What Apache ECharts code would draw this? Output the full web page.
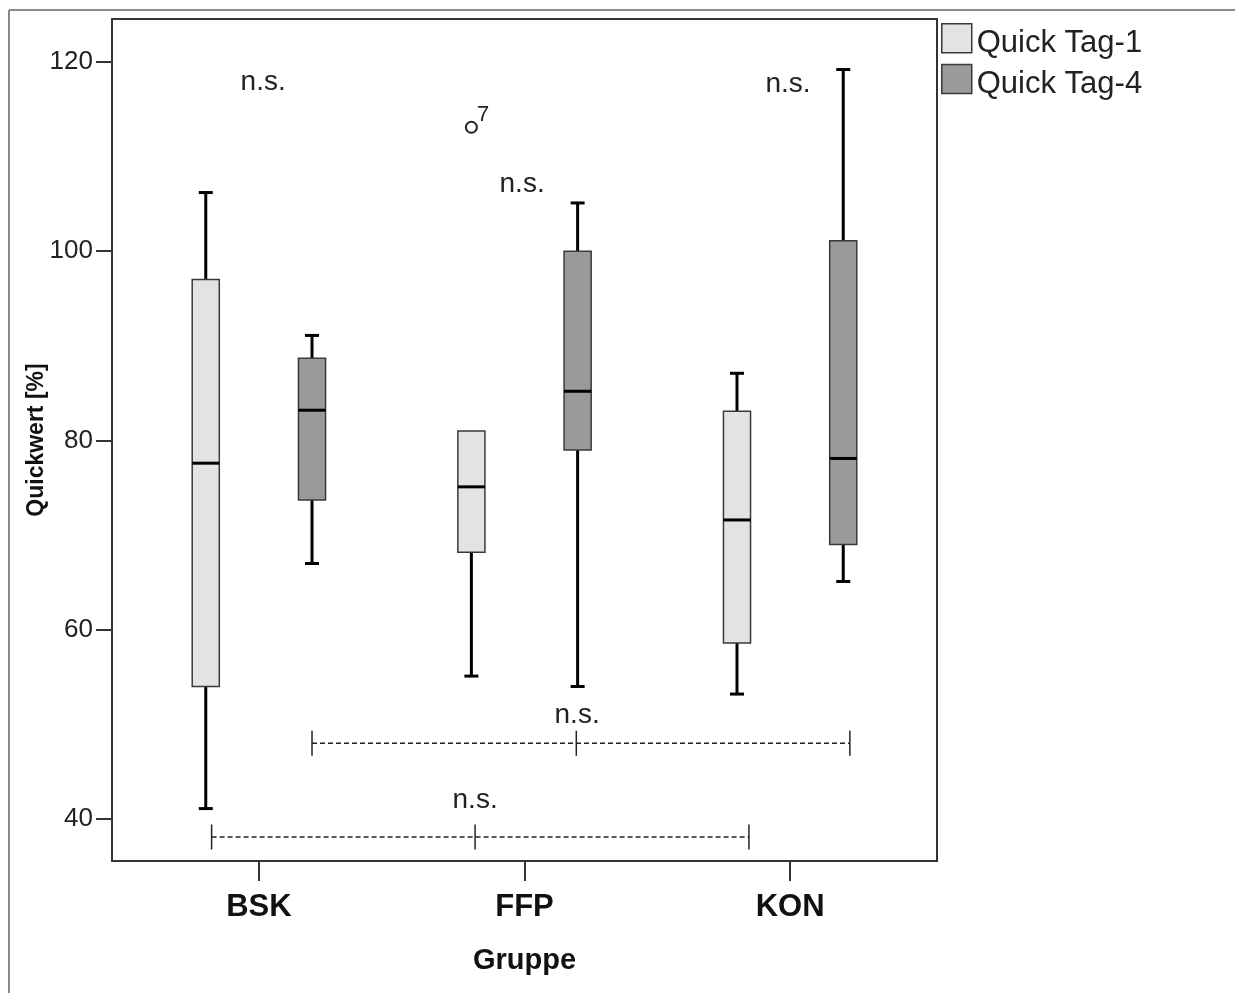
<!DOCTYPE html>
<html lang="de">
<head>
    <meta charset="utf-8">
    <title>Quickwert nach Gruppe</title>
    <script src="https://cdn.jsdelivr.net/npm/echarts@6/dist/echarts.min.js"></script>
    <style>
        html, body { margin: 0; padding: 0; background: #fff; }
        #chart { width: 1235px; height: 993px; }
    </style>
</head>
<body>
<div id="chart"></div>
<script type="text/javascript">
  // Gruppen und Boxplot-Kennwerte [min, Q1, Median, Q3, max]
  const groups = ['BSK', 'FFP', 'KON'];
  const tag1Box = [
      [41.1, 54.0, 77.6, 97.0, 106.2],
      [55.1, 68.2, 75.1, 81.0, 81.0],
      [53.2, 58.6, 71.6, 83.1, 87.1]
  ];
  const tag4Box = [
      [67.0, 73.7, 83.2, 88.7, 91.1],
      [54.0, 79.0, 85.2, 100.0, 105.1],
      [65.1, 69.0, 78.1, 101.1, 119.2]
  ];
  // Ausreißer: [Gruppe, Wert, Fallnummer]
  const tag1Outliers = [[1, 113.1, '7']];
  const yTicks = [40, 60, 80, 100, 120];

  // Signifikanz-Beschriftungen: [x, y, Text]
  const notes = [
      [1.016, 117.9, 'n.s.'],
      [1.991, 107.1, 'n.s.'],
      [2.992, 117.6, 'n.s.'],
      [2.198, 51.0, 'n.s.'],
      [1.814, 42.0, 'n.s.']
  ];
  // Vergleichsklammern: [y, x links, x Mitte, x rechts]
  const brackets = [
      [48.0, 1.200, 2.195, 3.225],
      [38.1, 0.822, 1.814, 2.845]
  ];

  const FONT = "'Liberation Sans', Arial, sans-serif";
  const OFFSET = 0.2;
  const BOX_W = 0.102;

  function boxData(list, sign) {
      return list.map((v, i) => [i + 1 + sign * OFFSET].concat(v));
  }

  function renderBox(params, api) {
      const x = api.value(0);
      const pMin = api.coord([x, api.value(1)]);
      const pQ1 = api.coord([x, api.value(2)]);
      const pMed = api.coord([x, api.value(3)]);
      const pQ3 = api.coord([x, api.value(4)]);
      const pMax = api.coord([x, api.value(5)]);
      const w = api.size([BOX_W, 0])[0];
      const cx = pMed[0];
      const cap = 7;
      const fill = api.visual('color');
      const thick = { stroke: '#000', lineWidth: 3 };
      const children = [];
      if (pMax[1] < pQ3[1] - 1) {
          children.push(
              { type: 'line', shape: { x1: cx, y1: pQ3[1], x2: cx, y2: pMax[1] }, style: thick },
              { type: 'line', shape: { x1: cx - cap, y1: pMax[1], x2: cx + cap, y2: pMax[1] }, style: thick }
          );
      }
      if (pMin[1] > pQ1[1] + 1) {
          children.push(
              { type: 'line', shape: { x1: cx, y1: pMin[1], x2: cx, y2: pQ1[1] }, style: thick },
              { type: 'line', shape: { x1: cx - cap, y1: pMin[1], x2: cx + cap, y2: pMin[1] }, style: thick }
          );
      }
      children.push(
          {
              type: 'rect',
              shape: { x: cx - w / 2, y: pQ3[1], width: w, height: pQ1[1] - pQ3[1] },
              style: { fill: fill, stroke: '#3a3a3a', lineWidth: 1.5 }
          },
          { type: 'line', shape: { x1: cx - w / 2, y1: pMed[1], x2: cx + w / 2, y2: pMed[1] }, style: thick }
      );
      return { type: 'group', children: children };
  }

  function renderBracket(params, api) {
      const y = api.value(0);
      const pts = [api.coord([api.value(1), y]), api.coord([api.value(2), y]), api.coord([api.value(3), y])];
      const h = 12.5;
      const children = [{
          type: 'line',
          shape: { x1: pts[0][0], y1: pts[0][1], x2: pts[2][0], y2: pts[2][1] },
          style: { stroke: '#222', lineWidth: 1.5, lineDash: [5, 3] }
      }];
      pts.forEach(p => {
          children.push({
              type: 'line',
              shape: { x1: p[0], y1: p[1] - h, x2: p[0], y2: p[1] + h },
              style: { stroke: '#222', lineWidth: 1.5 }
          });
      });
      return { type: 'group', children: children };
  }

  const chart = echarts.init(document.getElementById('chart'));

  chart.setOption({
      animation: false,
      textStyle: { fontFamily: FONT },
      graphic: [
          { type: 'line', shape: { x1: 9, y1: 10, x2: 1235, y2: 10 }, style: { stroke: '#8a8a8a', lineWidth: 2 } },
          { type: 'line', shape: { x1: 9, y1: 10, x2: 9, y2: 993 }, style: { stroke: '#8a8a8a', lineWidth: 2 } }
      ],
      grid: {
          left: 112, top: 19, right: 298, bottom: 132,
          show: true, borderColor: '#333', borderWidth: 2, backgroundColor: '#fff'
      },
      legend: {
          orient: 'vertical',
          left: 941, top: 23,
          padding: 0,
          itemWidth: 30, itemHeight: 29, itemGap: 5,
          icon: 'rect',
          formatter: '{t|{name}}',
          textStyle: {
              fontSize: 31, color: '#222', fontFamily: FONT,
              rich: { t: { fontSize: 31, color: '#222', fontFamily: FONT, padding: [10, 0, 0, 0] } }
          },
          data: [
              { name: 'Quick Tag-1', itemStyle: { color: '#e3e3e3', borderColor: '#3a3a3a', borderWidth: 1.5 } },
              { name: 'Quick Tag-4', itemStyle: { color: '#9a9a9a', borderColor: '#3a3a3a', borderWidth: 1.5 } }
          ]
      },
      xAxis: {
          type: 'value',
          min: 0.447, max: 3.553,
          name: 'Gruppe',
          nameLocation: 'middle',
          nameGap: 85,
          nameTextStyle: { fontSize: 29, fontWeight: 'bold', color: '#111', fontFamily: FONT },
          axisLine: { show: false },
          splitLine: { show: false },
          axisTick: { show: true, length: 20, lineStyle: { color: '#333', width: 2 }, customValues: [1, 2, 3] },
          axisLabel: {
              margin: 31,
              fontSize: 31, fontWeight: 'bold', color: '#111', fontFamily: FONT,
              customValues: [1, 2, 3],
              formatter: v => groups[Math.round(v) - 1] || ''
          }
      },
      yAxis: {
          type: 'value',
          min: 35.56, max: 124.54,
          name: 'Quickwert [%]',
          nameLocation: 'middle',
          nameGap: 64,
          nameMoveOverlap: false,
          nameRotate: 90,
          nameTextStyle: { fontSize: 23, fontWeight: 'bold', color: '#111', fontFamily: FONT },
          axisLine: { show: false },
          splitLine: { show: false },
          axisTick: { show: true, length: 16, lineStyle: { color: '#333', width: 2 }, customValues: yTicks },
          axisLabel: {
              margin: 19,
              fontSize: 26, color: '#222', fontFamily: FONT,
              customValues: yTicks
          }
      },
      series: [
          {
              name: 'Quick Tag-1',
              type: 'custom',
              renderItem: renderBox,
              itemStyle: { color: '#e3e3e3' },
              encode: { x: 0, y: [1, 2, 3, 4, 5] },
              data: boxData(tag1Box, -1),
              z: 3
          },
          {
              name: 'Quick Tag-4',
              type: 'custom',
              renderItem: renderBox,
              itemStyle: { color: '#9a9a9a' },
              encode: { x: 0, y: [1, 2, 3, 4, 5] },
              data: boxData(tag4Box, 1),
              z: 3
          },
          {
              name: 'Ausreißer',
              type: 'scatter',
              symbol: 'circle',
              symbolSize: 11,
              itemStyle: { color: '#fff', borderColor: '#222', borderWidth: 2, opacity: 1 },
              label: {
                  show: true, position: [12, -17], fontSize: 22, color: '#222', fontFamily: FONT,
                  formatter: p => p.data[2]
              },
              data: tag1Outliers.map(o => [o[0] + 1 - OFFSET, o[1], o[2]]),
              z: 4
          },
          {
              name: 'Klammern',
              type: 'custom',
              renderItem: renderBracket,
              encode: { x: [1, 2, 3], y: 0 },
              data: brackets,
              silent: true,
              z: 2
          },
          {
              name: 'Notizen',
              type: 'scatter',
              symbolSize: 0,
              silent: true,
              itemStyle: { opacity: 1 },
              label: {
                  show: true, position: 'inside', fontSize: 28, color: '#222', fontFamily: FONT,
                  formatter: p => p.data[2]
              },
              data: notes,
              z: 5
          }
      ]
  });
</script>
</body>
</html>
